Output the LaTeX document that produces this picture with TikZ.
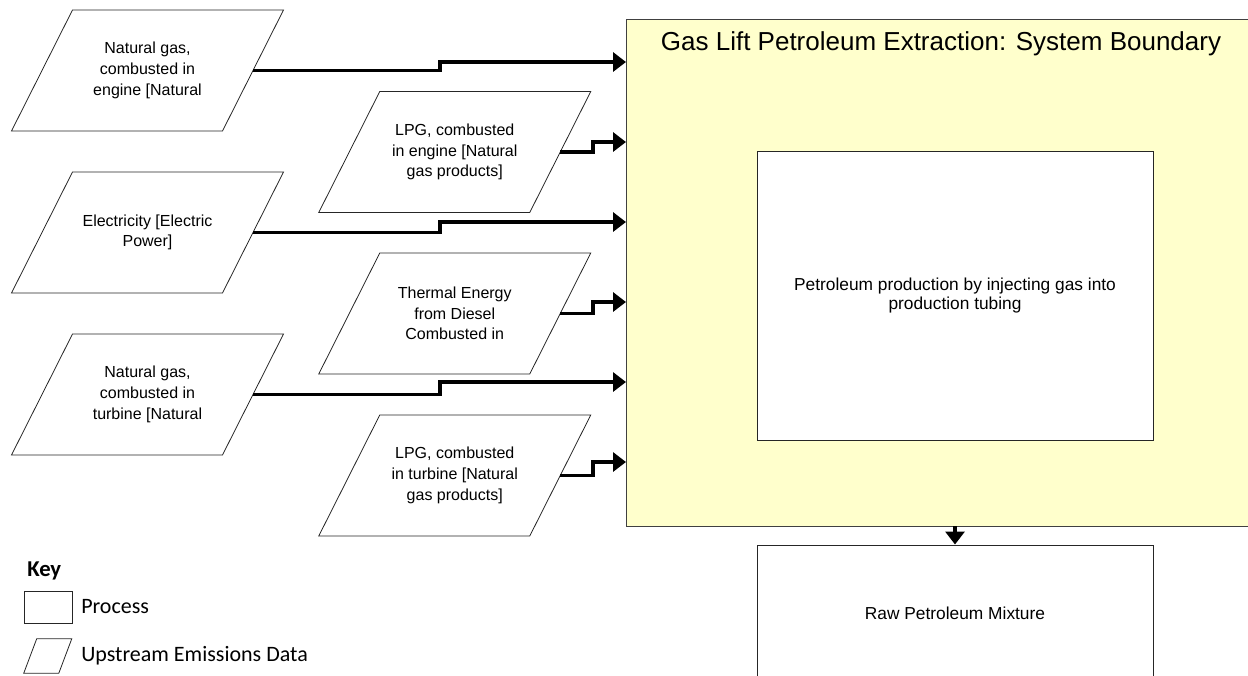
\documentclass[tikz,border=0pt]{standalone}
\usepackage{fontspec}
\setmainfont{Liberation Sans}
\newfontfamily\keyfont{Carlito}
\usetikzlibrary{calc,arrows.meta}

\definecolor{sysyellow}{HTML}{FFFFCC}

\tikzset{
  slot/.style={inner sep=0pt, outer sep=0pt, align=center,
    font=\fontsize{12}{15.5}\selectfont,
    minimum width=158.25pt, minimum height=90.75pt},
  outline/.style={draw=black!85, line width=0.6pt},
  flow/.style={line width=2.4pt, line join=miter,
    -{Triangle[length=9.75pt,width=14.25pt]}},
  sysbox/.style={draw=black!75, line width=0.6pt, fill=sysyellow,
    inner sep=0pt, minimum width=469.5pt, minimum height=380.25pt},
  procbox/.style={draw=black!85, line width=0.75pt, fill=white,
    inner sep=0pt, align=center, font=\fontsize{13}{14.5}\selectfont,
    minimum width=297pt},
  keytext/.style={anchor=west, inner sep=0pt,
    font=\keyfont\fontsize{16.5}{19.5}\selectfont},
}

% slanted outline around a named node: #1 node, #2 horizontal half-offset
\newcommand\slantbox[2]{%
  \draw[outline] ($(#1.south west)+(-#2,0)$) -- ($(#1.north west)+(#2,0)$)
    -- ($(#1.north east)+(#2,0)$) -- ($(#1.south east)+(-#2,0)$) -- cycle;}

\begin{document}
\begin{tikzpicture}[x=0.75pt,y=-0.75pt]
  \useasboundingbox (0,0) rectangle (1248,675);
  \clip (0,0) rectangle (1248,675);

  % system boundary
  \node[sysbox] (sys) at (939,272.5) {};
  \node[font=\fontsize{19.5}{22}\selectfont, inner sep=0pt] (title) at (941,44)
    {Gas Lift Petroleum Extraction: System Boundary};
  \node[procbox, minimum height=216.75pt] (prod) at (955,295.5)
    {Petroleum production by injecting gas into\\production tubing};

  % output
  \node[procbox, minimum height=102pt] (raw) at (955,613) {Raw Petroleum Mixture};
  \draw[flow] (raw.north |- sys.south) -- (raw.north);

  % upstream inputs, left column
  \node[slot] (p1) at (147.5,70.5) {Natural gas,\\combusted in\\engine [Natural};
  \node[slot] (p3) at (147.5,232.5) {Electricity [Electric\\Power]};
  \node[slot] (p5) at (147.5,394.5) {Natural gas,\\combusted in\\turbine [Natural};
  % upstream inputs, right column
  \node[slot] (p2) at (454.75,152) {LPG, combusted\\in engine [Natural\\gas products]};
  \node[slot] (p4) at (454.75,313.5) {Thermal Energy\\from Diesel\\Combusted in};
  \node[slot] (p6) at (454.75,475.5) {LPG, combusted\\in turbine [Natural\\gas products]};
  \foreach \p in {p1,p2,p3,p4,p5,p6} {\slantbox{\p}{30.5}}

  % entry points on the boundary
  \coordinate (e1) at (626,62);
  \coordinate (e2) at (626,142);
  \coordinate (e3) at (626,222);
  \coordinate (e4) at (626,302);
  \coordinate (e5) at (626,382);
  \coordinate (e6) at (626,462);

  \draw[flow] (p1.east) -| ($(e1)+(-186,0)$) -- (e1);
  \draw[flow] (p3.east) -| ($(e3)+(-186,0)$) -- (e3);
  \draw[flow] (p5.east) -| ($(e5)+(-186,0)$) -- (e5);
  \draw[flow] (p2.east) -| ($(e2)+(-33,0)$) -- (e2);
  \draw[flow] (p4.east) -| ($(e4)+(-33,0)$) -- (e4);
  \draw[flow] (p6.east) -| ($(e6)+(-33,0)$) -- (e6);

  % key
  \node[keytext, font=\keyfont\bfseries\fontsize{17}{20}\selectfont] (keyt) at (27,571) {Key};
  \node[outline, inner sep=0pt, minimum width=36pt, minimum height=24pt] (kproc) at (48,607) {};
  \node[keytext] (kproct) at (81,607) {Process};
  \node[inner sep=0pt, minimum width=25.9pt, minimum height=25.5pt] (kpara) at (47.75,656) {};
  \slantbox{kpara}{6.5}
  \node[keytext] (kparat) at (81,656) {Upstream Emissions Data};
\end{tikzpicture}
\end{document}
